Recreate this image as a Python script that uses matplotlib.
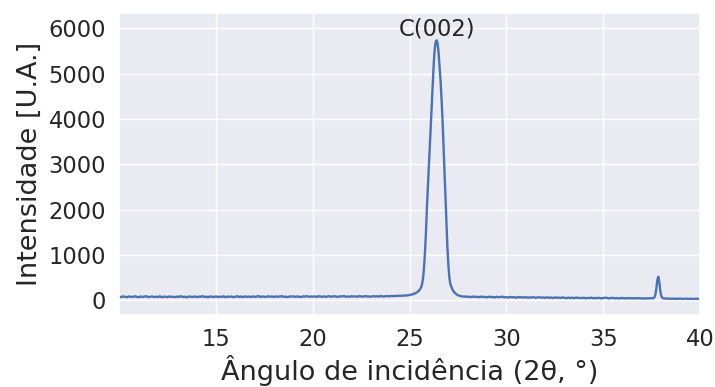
import numpy as np
import matplotlib
matplotlib.use("Agg")
import matplotlib.pyplot as plt
import seaborn as sns

sns.set_theme(style="darkgrid")
plt.rcParams['font.family'] = ['DejaVu Sans']

# Scan 1: 10.0-24.9 deg, step 0.1 deg
scan1_start, scan1_step = 10.0, 0.1
scan1_counts = [
    82, 71, 88, 76, 69, 84, 79, 73, 90, 77,
    68, 85, 74, 81, 92, 70, 78, 86, 72, 80,
    75, 89, 67, 83, 78, 71, 87, 74, 80, 69,
    84, 76, 91, 72, 79, 66, 85, 78, 73, 88,
    70, 82, 77, 93, 75, 80, 68, 86, 79, 74,
    87, 72, 81, 76, 90, 69, 83, 78, 85, 71,
    79, 92, 74, 84, 70, 88, 77, 82, 73, 89,
    76, 83, 95, 71, 86, 79, 74, 91, 80, 85,
    72, 88, 79, 84, 93, 75, 82, 70, 87, 81,
    90, 76, 85, 78, 73, 89, 82, 94, 77, 84,
    80, 87, 75, 92, 83, 78, 88, 74, 91, 85,
    79, 94, 82, 76, 89, 84, 97, 80, 86, 78,
    91, 83, 88, 79, 95, 85, 81, 92, 87, 84,
    80, 93, 86, 90, 82, 97, 88, 85, 94, 89,
    92, 98, 90, 101, 96, 104, 99, 108, 103, 112,
]

# C(002) reflection
peak1_angles = [25.00, 25.10, 25.20, 25.30, 25.40, 25.50, 25.60, 25.65, 25.70,
                25.75, 25.80, 25.85, 25.90, 25.95, 26.00, 26.05, 26.10, 26.15,
                26.20, 26.25, 26.30, 26.35, 26.40, 26.45, 26.50, 26.55, 26.60,
                26.65, 26.70, 26.75, 26.80, 26.85, 26.90, 26.95, 27.00, 27.05,
                27.10, 27.20, 27.30, 27.40, 27.50, 27.60, 27.70, 27.80]
peak1_counts = [117, 128, 140, 158, 182, 220, 290, 370, 500,
                750, 1100, 1550, 2100, 2550, 3050, 3500, 3950, 4400,
                4850, 5250, 5550, 5710, 5740, 5660, 5450, 5150, 4850,
                4450, 4000, 3450, 2900, 2350, 1750, 1200, 800, 520,
                370, 250, 180, 140, 112, 98, 88, 82]

# Scan 2: 27.9-37.5 deg, step 0.1 deg
scan2_start, scan2_step = 27.9, 0.1
scan2_counts = [
    84,
    76, 81, 70, 85, 74, 79, 68, 82, 73, 77,
    66, 80, 71, 75, 63, 78, 69, 73, 81, 65,
    72, 61, 76, 67, 70, 58, 74, 64, 69, 62,
    71, 57, 66, 60, 73, 55, 64, 68, 59, 63,
    54, 67, 58, 62, 50, 65, 57, 61, 53, 64,
    56, 48, 60, 52, 58, 47, 62, 51, 55, 49,
    57, 45, 53, 50, 59, 44, 52, 48, 55, 43,
    51, 58, 54, 42, 49, 56, 44, 50, 41, 47,
    53, 40, 48, 45, 51, 39, 47, 43, 50, 42,
    46, 38, 44, 41, 48, 43,
]

# Second reflection near 37.8 deg
peak2_angles = [37.60, 37.65, 37.70, 37.75, 37.80, 37.85, 37.90, 37.95,
                38.00, 38.05, 38.10, 38.20]
peak2_counts = [50, 70, 130, 280, 460, 520, 400, 210, 100, 60, 45, 40]

# Scan 3: 38.3-40.0 deg, step 0.1 deg
scan3_start, scan3_step = 38.3, 0.1
scan3_counts = [36, 42, 33, 39, 31, 37, 34, 40, 30, 35, 38, 29, 36, 33, 31,
                37, 32, 34]

peak_label = "C(002)"
peak_label_pos = (26.40, 5740)


def scan_angles(start, step, n):
    return list(np.round(start + step * np.arange(n), 2))


angles = (scan_angles(scan1_start, scan1_step, len(scan1_counts))
          + peak1_angles
          + scan_angles(scan2_start, scan2_step, len(scan2_counts))
          + peak2_angles
          + scan_angles(scan3_start, scan3_step, len(scan3_counts)))
counts = scan1_counts + peak1_counts + scan2_counts + peak2_counts + scan3_counts

fig = plt.figure(figsize=(7.15, 3.87), dpi=100)
ax = fig.add_axes([0.1667, 0.186, 0.8123, 0.780])
ax.plot(angles, counts, color="#4c72b0", lw=1.7)
ax.set_xlim(10, 40)
ax.set_ylim(-324, 6338)
ax.set_xticks([15, 20, 25, 30, 35, 40])
ax.set_yticks([0, 1000, 2000, 3000, 4000, 5000, 6000])
ax.tick_params(labelsize=16.3, colors="#262626")
ax.set_xlabel("Ângulo de incidência (2θ, °)", fontsize=19.5, color="#262626",
              labelpad=3)
ax.set_ylabel("Intensidade [U.A.]", fontsize=19.5, color="#262626")
ax.annotate(peak_label, xy=peak_label_pos, ha="center", va="bottom",
            fontsize=16.3, color="#262626")

fig.savefig("out.png", dpi=100)
